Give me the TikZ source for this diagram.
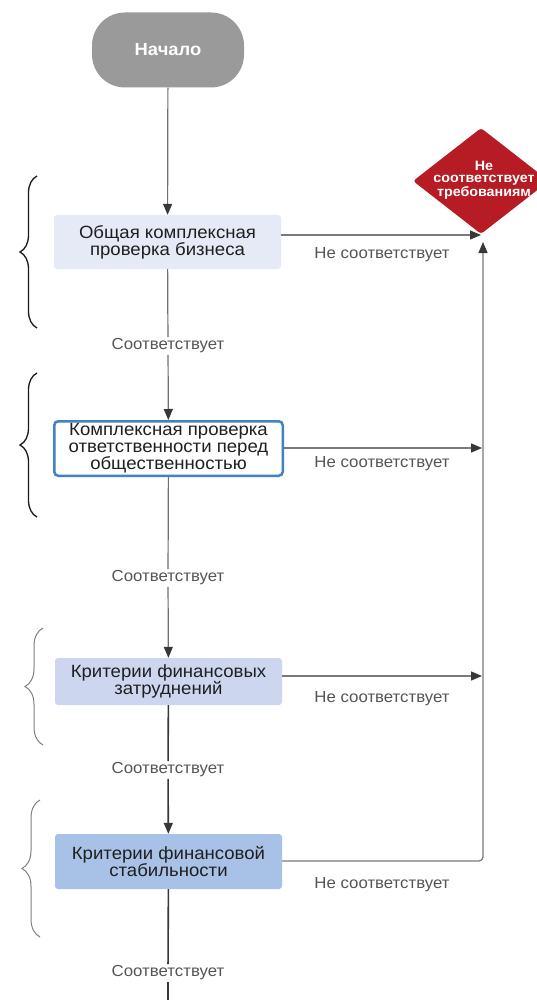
\documentclass[tikz,border=0pt]{standalone}
\usepackage{fontspec}
\setmainfont{Liberation Sans}[FakeStretch=1.05]
\usetikzlibrary{arrows.meta,shapes.geometric,decorations.pathreplacing}
\definecolor{startgray}{HTML}{9A9A9A}
\definecolor{redd}{HTML}{B71C24}
\definecolor{bxa}{HTML}{E6EAF6}
\definecolor{bxc}{HTML}{CCD7EF}
\definecolor{bxd}{HTML}{A8C1E7}
\definecolor{bblue}{HTML}{3F82C6}
\definecolor{lgray}{HTML}{707070}
\definecolor{dgray}{HTML}{383838}
\definecolor{tgray}{HTML}{555555}
\definecolor{hgray}{HTML}{7A7A7A}
\begin{document}
\begin{tikzpicture}[x=1pt,y=-1pt,
  boxtxt/.style={font=\fontsize{17.7}{17}\selectfont, align=center, inner sep=0pt, text=black!88, rounded corners=3pt, minimum width=227pt},
  lab/.style={font=\fontsize{16}{16}\selectfont, text=tgray, inner sep=1.5pt},
  labon/.style={lab, fill=white},
  arr/.style={-{Triangle[length=11pt,width=9pt,color=dgray]}},
  vline/.style={draw=lgray, line width=1.2pt},
  vdark/.style={draw=dgray, line width=1.6pt},
  hline/.style={draw=hgray, line width=1.3pt},
  bracea/.style={decorate, decoration={brace, amplitude=17pt}, draw=black!90, line width=1.3pt},
  braceb/.style={decorate, decoration={brace, amplitude=18pt}, draw=black!50, line width=1pt}]
\useasboundingbox (0,0) rectangle (536,1000);
\fill[white] (0,0) rectangle (536,1000);

% nodes
\node[fill=startgray, rounded corners=33pt, minimum width=152pt, minimum height=75pt, inner sep=0pt,
      text=white, font=\bfseries\fontsize{17.5}{17.5}\selectfont] (start) at (168,50) {Начало};
\node[boxtxt, fill=bxa, minimum height=54pt] (box1) at (167.5,242) {Общая комплексная\\проверка бизнеса};
\node[boxtxt, fill=white, draw=bblue, line width=2.5pt, rounded corners=4pt, minimum width=228.5pt, minimum height=54.5pt] (box2) at (168.5,448.5) {Комплексная проверка\\ответственности перед\\общественностью};
\node[boxtxt, fill=bxc, minimum height=47pt] (box3) at (168.5,681.5) {Критерии финансовых\\затруднений};
\node[boxtxt, fill=bxd, minimum height=55pt] (box4) at (168.5,861.5) {Критерии финансовой\\стабильности};

\node[diamond, fill=redd, minimum width=136pt, minimum height=106pt, inner sep=0pt, rounded corners=3pt] (dia) at (481,181) {};
\node[text=white, font=\bfseries\fontsize{13.6}{12.5}\selectfont, align=center, inner sep=0pt] (dtext) at (484,180) {Не\\соответствует\\требованиям};

% labels
\node[labon] (lab1) at (168,346) {Соответствует};
\node[labon] (lab2) at (168,578) {Соответствует};
\node[labon] (lab3) at (168,770) {Соответствует};
\node[labon] (lab4) at (168,973) {Соответствует};
\node[lab] (n1) at (382,255) {Не соответствует};
\node[lab] (n2) at (382,464) {Не соответствует};
\node[lab] (n3) at (382,699) {Не соответствует};
\node[lab] (n4) at (382,885) {Не соответствует};

% coordinates
\coordinate (d1) at (481,235);
\coordinate (vup) at (483,242);
\coordinate (j2) at (482,448);
\coordinate (j3) at (482,676);
\coordinate (corner) at (483,861);
\coordinate (endp) at (168,1000);

% vertical connectors
\draw[vline, arr] (start) -- (box1);
\draw[vline] (box1) -- (lab1);
\draw[vline, arr] (lab1) -- (box2);
\draw[vline] (box2) -- (lab2);
\draw[vline, arr] (lab2) -- (box3);
\draw[vdark] (box3) -- (lab3);
\draw[vdark, arr] (lab3) -- (box4);
\draw[vdark] (box4) -- (lab4);
\draw[vdark] (lab4) -- (endp);

% horizontal connectors
\draw[hline, arr] (box1.east |- d1) -- (d1);
\draw[hline, arr] (box2.east |- j2) -- (j2);
\draw[hline, arr] (box3.east |- j3) -- (j3);
\draw[hline, arr, rounded corners=4pt] (box4.east |- corner) -- (corner) -- (vup);

% braces
\draw[bracea] (37,328) -- (37,176);
\draw[bracea] (37,517) -- (37,373);
\draw[braceb] (43,745) -- (43,628);
\draw[braceb] (40,937) -- (40,800);
\end{tikzpicture}
\end{document}
